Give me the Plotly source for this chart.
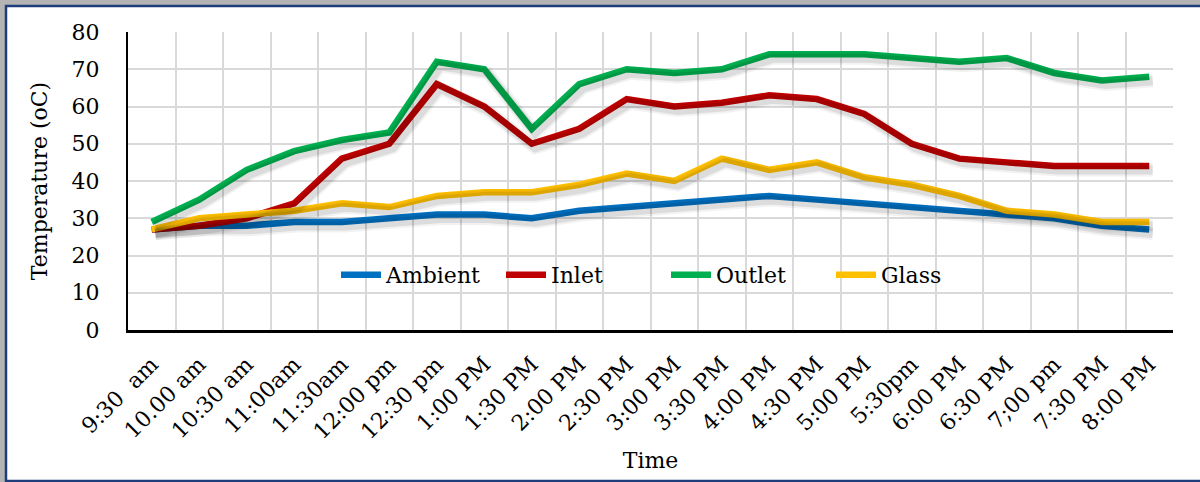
import plotly.graph_objects as go

# Half-hourly readings over the day
times = ["9:30  am", "10.00 am", "10:30 am", "11:00am", "11:30am", "12:00 pm",
         "12:30 pm", "1:00 PM", "1:30 PM", "2:00 PM", "2:30 PM", "3:00 PM",
         "3:30 PM", "4:00 PM", "4:30 PM", "5:00 PM", "5:30pm", "6:00 PM",
         "6:30 PM", "7;00 pm", "7:30 PM", "8:00 PM"]

ambient = [27, 28, 28, 29, 29, 30, 31, 31, 30, 32, 33, 34, 35, 36, 35, 34, 33, 32, 31, 30, 28, 27]
inlet = [27, 28, 30, 34, 46, 50, 66, 60, 50, 54, 62, 60, 61, 63, 62, 58, 50, 46, 45, 44, 44, 44]
outlet = [29, 35, 43, 48, 51, 53, 72, 70, 54, 66, 70, 69, 70, 74, 74, 74, 73, 72, 73, 69, 67, 68]
glass = [27, 30, 31, 32, 34, 33, 36, 37, 37, 39, 42, 40, 46, 43, 45, 41, 39, 36, 32, 31, 29, 29]

series = [
    ("Ambient", ambient, "#0070C0"),
    ("Inlet", inlet, "#C00000"),
    ("Outlet", outlet, "#00B050"),
    ("Glass", glass, "#FFC000"),
]

FONT = "DejaVu Serif"
n = len(times)

fig = go.Figure()

# soft drop shadows drawn on a slightly shifted overlay axis pair
for name, vals, color in series:
    for w, a in ((13, 0.05), (9, 0.09)):
        fig.add_trace(go.Scatter(
            x=times, y=vals, mode="lines", xaxis="x2", yaxis="y2",
            line=dict(color=f"rgba(0,0,0,{a})", width=w),
            showlegend=False, hoverinfo="skip"))

for name, vals, color in series:
    fig.add_trace(go.Scatter(
        x=times, y=vals, mode="lines", name=name,
        line=dict(color=color, width=6.5)))

# frame around the chart area
L, R, T, B = 128, 1173, 32, 330
def px_x(p):
    return (p - L) / (R - L)
def px_y(p):
    return (B - p) / (B - T)

fig.add_shape(type="rect", xref="paper", yref="paper",
              x0=px_x(6), x1=px_x(1215), y0=px_y(481), y1=px_y(6),
              line=dict(color="#1F3D7A", width=2.5), fillcolor="white",
              layer="below")

shift_x = 3.5 / ((R - L) / n)
shift_y = 4 / ((B - T) / 80)

fig.update_layout(
    width=1200, height=482,
    margin=dict(l=L, r=1200 - R, t=T, b=482 - B),
    paper_bgcolor="#B4B4B4",
    plot_bgcolor="white",
    font=dict(family=FONT, size=22, color="black"),
    showlegend=True,
    legend=dict(orientation="h", x=px_x(336), y=px_y(275), xanchor="left",
                yanchor="middle", bgcolor="rgba(0,0,0,0)",
                font=dict(family=FONT, size=22), itemwidth=40,
                entrywidth=110, traceorder="normal"),
    xaxis=dict(
        type="category", categoryorder="array", categoryarray=times,
        range=[-0.5, n - 0.5], tickson="boundaries", tickangle=-45,
        showgrid=True, gridcolor="#D9D9D9", gridwidth=2,
        showline=True, linecolor="black", linewidth=2.5,
        ticks="", ticklabelstandoff=10,
        tickfont=dict(family=FONT, size=22),
        title=dict(text="Time", standoff=10, font=dict(family=FONT, size=22)),
        zeroline=False, automargin=False),
    yaxis=dict(
        range=[0, 80], dtick=10, showgrid=True, gridcolor="#D9D9D9",
        gridwidth=2, showline=True, linecolor="black", linewidth=2,
        ticks="", ticklabelstandoff=22, zeroline=False,
        tickfont=dict(family=FONT, size=22),
        title=dict(text="Temperature (oC)", standoff=18,
                   font=dict(family=FONT, size=22)),
        automargin=False),
    xaxis2=dict(type="category", categoryorder="array", categoryarray=times,
                overlaying="x", range=[-0.5 - shift_x, n - 0.5 - shift_x],
                visible=False),
    yaxis2=dict(overlaying="y", range=[shift_y, 80 + shift_y], visible=False),
)

fig.write_html("out.html")
